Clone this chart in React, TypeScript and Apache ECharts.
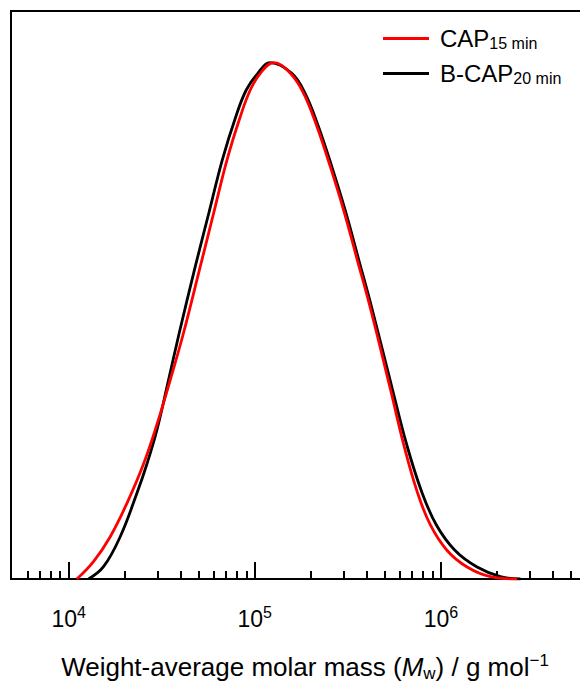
import React, { useEffect, useRef } from "react";
import * as echarts from "echarts";

// Molar mass (g/mol) and normalized detector signal
const capMw = [
  1.107e4, 1.359e4, 1.672e4, 2.056e4, 2.524e4, 2.98e4, 3.513e4, 4.141e4, 5.093e4, 6.005e4,
  7.088e4, 8.356e4, 9.458e4, 1.071e5, 1.262e5, 1.552e5, 1.83e5, 2.16e5, 2.546e5, 3.002e5,
  3.544e5, 4.178e5, 5.352e5, 6.31e5, 7.448e5, 8.78e5, 1.08e6, 1.383e6, 1.846e6, 2.569e6,
];
const capSignal = [
  0, 0.0335, 0.0819, 0.1466, 0.2227, 0.2992, 0.3854, 0.4764, 0.6048, 0.7078,
  0.8114, 0.8953, 0.947, 0.9793, 1.0, 0.9793, 0.9406, 0.8759, 0.7985, 0.7146,
  0.6197, 0.5248, 0.368, 0.2605, 0.1696, 0.1046, 0.0552, 0.0232, 0.0045, 0,
];
const bcapMw = [
  1.278e4, 1.539e4, 1.892e4, 2.326e4, 2.633e4, 2.98e4, 3.44e4, 3.927e4, 4.787e4, 5.657e4,
  6.688e4, 7.906e4, 9.0e4, 1.038e5, 1.211e5, 1.581e5, 1.864e5, 2.2e5, 2.594e5, 3.058e5,
  3.61e5, 4.256e5, 5.486e5, 6.548e5, 7.875e5, 9.458e5, 1.192e6, 1.565e6, 2.089e6, 2.676e6,
];
const bcapSignal = [
  0, 0.0238, 0.0819, 0.166, 0.2227, 0.2886, 0.3854, 0.4764, 0.6048, 0.7078,
  0.8114, 0.8953, 0.947, 0.9793, 1.0, 0.9793, 0.9406, 0.8759, 0.7985, 0.7146,
  0.6197, 0.5248, 0.368, 0.2605, 0.1696, 0.1046, 0.0552, 0.0232, 0.0045, 0,
];

const majorTicks = [1e4, 1e5, 1e6];
const minorTicks = [
  6e3, 7e3, 8e3, 9e3,
  2e4, 3e4, 4e4, 5e4, 6e4, 7e4, 8e4, 9e4,
  2e5, 3e5, 4e5, 5e5, 6e5, 7e5, 8e5, 9e5,
  2e6, 3e6, 4e6, 5e6, 6e6, 7e6, 8e6, 9e6,
];
const seriesNames = ["CAP 15 min", "B-CAP 20 min"];
const seriesMain = ["CAP", "B-CAP"];
const seriesSub = ["15 min", "20 min"];
const xMinValue = 4900;
const xMaxValue = 1e7;

const FONT = "'Liberation Sans', Arial, Helvetica, sans-serif";

export default function App() {
  const ref = useRef<HTMLDivElement>(null);

  useEffect(() => {
    if (!ref.current) return;
    const chart = echarts.init(ref.current, null, { renderer: "svg" });
    const lg = (v: number) => Math.log10(v);
    const xMin = lg(xMinValue);
    const xMax = lg(xMaxValue);

    chart.setOption({
      animation: false,
      grid: {
        left: 11,
        top: 11,
        width: 616,
        bottom: 105,
        outerBoundsMode: "none",
        containLabel: false,
        show: true,
        borderColor: "#000",
        borderWidth: 2,
        backgroundColor: "transparent",
      },
      legend: {
        orient: "vertical",
        left: 383,
        top: 23,
        padding: 0,
        itemGap: 4,
        itemWidth: 46,
        itemHeight: 3,
        icon: "rect",
        data: [seriesNames[0], seriesNames[1]],
        formatter: (name: string) => {
          const i = seriesNames.indexOf(name);
          return `{m|${seriesMain[i]}}{s|${seriesSub[i]}}`;
        },
        textStyle: {
          rich: {
            m: {
              fontFamily: FONT,
              fontSize: 24,
              lineHeight: 26,
              color: "#000",
              padding: [3, 0, 4, 6],
            },
            s: {
              fontFamily: FONT,
              fontSize: 16,
              lineHeight: 15,
              color: "#000",
              verticalAlign: "bottom",
            },
          },
        },
      },
      xAxis: [
        {
          type: "value",
          min: xMin,
          max: xMax,
          position: "bottom",
          splitLine: { show: false },
          axisLine: { show: true, lineStyle: { color: "#000", width: 2 } },
          axisTick: {
            show: true,
            inside: true,
            length: 17,
            lineStyle: { color: "#000", width: 2 },
            customValues: majorTicks.map(lg),
          },
          axisLabel: {
            show: true,
            margin: 25,
            customValues: majorTicks.map(lg),
            formatter: (v: number) => `{b|10}{s|${Math.round(v)}}`,
            rich: {
              b: {
                fontFamily: FONT,
                fontSize: 23,
                lineHeight: 22,
                color: "#000",
                padding: [8, 0, 0, 0],
              },
              s: {
                fontFamily: FONT,
                fontSize: 16,
                lineHeight: 15,
                color: "#000",
                verticalAlign: "top",
              },
            },
          },
          name: "{a|Weight-average molar mass (}{i|M}{s|w}{a|) / g mol}{p|−1}",
          nameLocation: "middle",
          nameGap: 73,
          nameTextStyle: {
            padding: [0, 28, 0, 0],
            rich: {
              a: { fontFamily: FONT, fontSize: 26, lineHeight: 30, color: "#000" },
              i: { fontFamily: FONT, fontSize: 26, lineHeight: 30, color: "#000", fontStyle: "italic" },
              s: { fontFamily: FONT, fontSize: 17, lineHeight: 17, color: "#000", verticalAlign: "bottom" },
              p: { fontFamily: FONT, fontSize: 17, lineHeight: 17, color: "#000", verticalAlign: "top" },
            },
          },
        },
        {
          type: "value",
          min: xMin,
          max: xMax,
          position: "bottom",
          splitLine: { show: false },
          axisLine: { show: false },
          axisTick: {
            show: true,
            inside: true,
            length: 8,
            lineStyle: { color: "#000", width: 2 },
            customValues: minorTicks.map(lg),
          },
          axisLabel: { show: false },
        },
      ],
      yAxis: {
        type: "value",
        min: 0,
        max: 1.1,
        axisLine: { show: false },
        axisTick: { show: false },
        axisLabel: { show: false },
        splitLine: { show: false },
      },
      series: [
        {
          name: seriesNames[1],
          type: "line",
          xAxisIndex: 0,
          data: bcapMw.map((m, i) => [lg(m), bcapSignal[i]]),
          symbol: "none",
          smooth: 0.4,
          lineStyle: { color: "#000000", width: 2.8 },
          itemStyle: { color: "#000000" },
        },
        {
          name: seriesNames[0],
          type: "line",
          xAxisIndex: 0,
          data: capMw.map((m, i) => [lg(m), capSignal[i]]),
          symbol: "none",
          smooth: 0.4,
          lineStyle: { color: "#ff0000", width: 2.8 },
          itemStyle: { color: "#ff0000" },
        },
      ],
    });

    return () => chart.dispose();
  }, []);

  return (
    <div
      ref={ref}
      style={{ position: "fixed", left: 0, top: 0, width: 580, height: 684, background: "#fff" }}
    />
  );
}
